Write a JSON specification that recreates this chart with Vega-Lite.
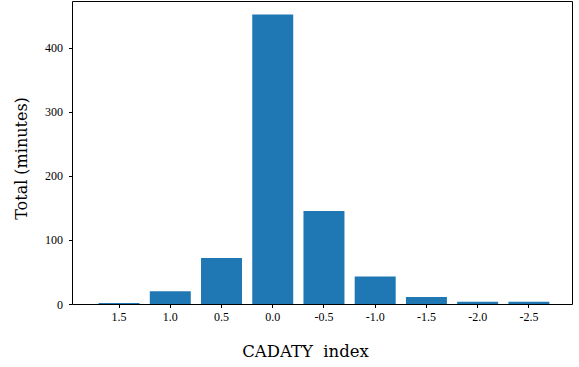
{
  "$schema": "https://vega.github.io/schema/vega-lite/v6.json",
  "width": 500,
  "height": 303,
  "autosize": "none",
  "padding": {"left": 72, "top": 1, "right": 7, "bottom": 63},
  "background": "white",
  "config": {
    "view": {"stroke": "black", "strokeWidth": 1},
    "font": "Liberation Serif"
  },
  "data": {
    "values": [
      {"index": "1.5", "total": 1.5},
      {"index": "1.0", "total": 20},
      {"index": "0.5", "total": 72},
      {"index": "0.0", "total": 452},
      {"index": "-0.5", "total": 145},
      {"index": "-1.0", "total": 43},
      {"index": "-1.5", "total": 11},
      {"index": "-2.0", "total": 3.5},
      {"index": "-2.5", "total": 3.5}
    ]
  },
  "mark": {"type": "bar", "color": "#1f77b4"},
  "encoding": {
    "x": {
      "field": "index",
      "type": "nominal",
      "sort": ["1.5", "1.0", "0.5", "0.0", "-0.5", "-1.0", "-1.5", "-2.0", "-2.5"],
      "scale": {"paddingInner": 0.2, "paddingOuter": 0.48, "align": 0.54},
      "axis": {
        "title": "CADATY\u00a0\u00a0index",
        "titleFont": "DejaVu Serif",
        "titleFontSize": 16.5,
        "titleFontWeight": "normal",
        "titleColor": "black",
        "titleX": 233,
        "titleY": 52,
        "titleAlign": "center",
        "titleBaseline": "alphabetic",
        "labelAngle": 0,
        "labelFont": "Liberation Serif",
        "labelFontSize": 12,
        "labelColor": "black",
        "labelPadding": 4,
        "tickColor": "black",
        "tickSize": 3.5,
        "domain": false,
        "grid": false
      }
    },
    "y": {
      "field": "total",
      "type": "quantitative",
      "scale": {"domain": [0, 473], "nice": false},
      "axis": {
        "title": "Total (minutes)",
        "titleFont": "DejaVu Serif",
        "titleFontSize": 16,
        "titleFontWeight": "normal",
        "titleColor": "black",
        "titleX": -46,
        "titleY": 157,
        "titleAlign": "center",
        "titleBaseline": "alphabetic",
        "values": [0, 100, 200, 300, 400],
        "labelFont": "Liberation Serif",
        "labelFontSize": 12,
        "labelColor": "black",
        "labelPadding": 6,
        "tickColor": "black",
        "tickSize": 3.5,
        "domain": false,
        "grid": false
      }
    }
  }
}
